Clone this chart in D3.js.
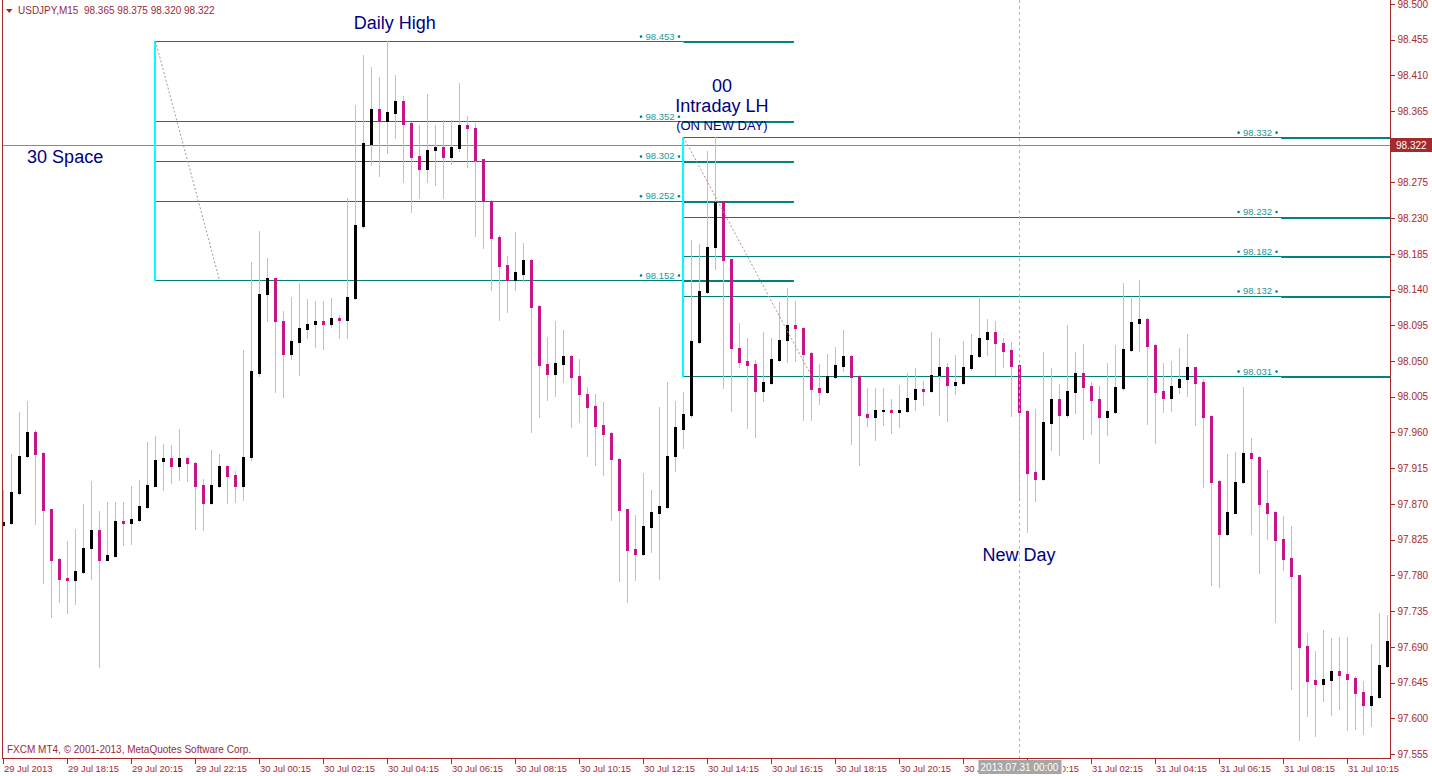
<!DOCTYPE html>
<html><head><meta charset="utf-8">
<script src="https://cdn.jsdelivr.net/npm/d3@7"></script>
<style>
html,body{margin:0;padding:0;background:#fff;overflow:hidden;}
svg{display:block;font-family:"Liberation Sans",Arial,sans-serif;}
</style></head><body>
<svg id="chart" width="1432" height="776"></svg>
<script>
// ---------------- DATA ----------------
const headerText = "USDJPY,M15  98.365 98.375 98.320 98.322";
const footerText = "FXCM MT4, \u00A9 2001-2013, MetaQuotes Software Corp.";

const opens = [97.844,97.846,97.884,97.930,97.961,97.934,97.863,97.801,97.777,97.774,
 97.784,97.814,97.837,97.800,97.805,97.849,97.846,97.850,97.866,97.893,
 97.924,97.928,97.918,97.928,97.922,97.894,97.871,97.892,97.918,97.906,
 97.892,97.929,98.035,98.134,98.154,98.101,98.059,98.074,98.090,98.097,
 98.101,98.097,98.104,98.102,98.130,98.220,98.324,98.368,98.352,98.363,
 98.377,98.350,98.308,98.292,98.316,98.320,98.307,98.318,98.347,98.344,
 98.304,98.252,98.206,98.171,98.152,98.160,98.177,98.119,98.046,98.034,
 98.046,98.056,98.031,98.009,97.993,97.969,97.959,97.927,97.863,97.813,
 97.807,97.841,97.858,97.866,97.930,97.965,97.982,98.074,98.137,98.194,
 98.251,98.178,98.067,98.050,98.046,98.012,98.022,98.051,98.076,98.095,
 98.092,98.060,98.016,98.011,98.030,98.044,98.056,98.031,97.983,97.979,
 97.987,97.988,97.986,97.987,98.002,98.015,98.012,98.032,98.042,98.020,
 98.022,98.041,98.056,98.078,98.087,98.073,98.064,98.045,97.987,97.910,
 97.901,97.972,98.002,97.982,98.011,98.035,98.018,98.002,97.979,97.986,
 98.016,98.064,98.098,98.103,98.070,98.012,98.003,98.017,98.027,98.042,
 98.023,97.981,97.899,97.832,97.859,97.897,97.934,97.929,97.871,97.860,
 97.826,97.802,97.780,97.691,97.648,97.643,97.648,97.660,97.656,97.651,
 97.633,97.617,97.627,97.666];
const highs = [97.888,97.933,97.986,98.000,97.963,97.935,97.864,97.802,97.823,97.838,
 97.870,97.899,97.861,97.872,97.873,97.872,97.892,97.900,97.948,97.956,
 97.945,97.944,97.965,97.929,97.923,97.902,97.938,97.933,97.919,97.911,
 98.064,98.175,98.214,98.180,98.155,98.113,98.131,98.148,98.128,98.126,
 98.126,98.129,98.108,98.256,98.372,98.436,98.421,98.408,98.453,98.410,
 98.384,98.351,98.347,98.387,98.347,98.354,98.353,98.400,98.359,98.350,
 98.305,98.253,98.209,98.182,98.213,98.199,98.178,98.120,98.080,98.101,
 98.089,98.057,98.052,98.017,98.009,97.998,97.960,97.928,97.864,97.856,
 97.909,97.887,97.992,98.024,98.000,98.011,98.203,98.197,98.315,98.332,
 98.252,98.179,98.098,98.079,98.051,98.087,98.079,98.124,98.142,98.126,
 98.093,98.061,98.046,98.059,98.068,98.089,98.057,98.032,98.016,98.016,
 98.016,98.002,98.020,98.035,98.041,98.025,98.087,98.079,98.048,98.058,
 98.075,98.084,98.129,98.103,98.100,98.079,98.074,98.046,97.988,97.990,
 98.061,98.041,98.021,98.095,98.062,98.071,98.024,98.018,98.048,98.070,
 98.148,98.130,98.152,98.104,98.071,98.048,98.050,98.066,98.084,98.043,
 98.027,97.982,97.900,97.933,97.935,98.017,97.953,97.930,97.913,97.861,
 97.855,97.842,97.781,97.708,97.685,97.711,97.701,97.703,97.703,97.653,
 97.647,97.693,97.733,97.730];
const lows = [97.842,97.845,97.883,97.929,97.845,97.771,97.727,97.747,97.732,97.744,
 97.783,97.776,97.665,97.799,97.804,97.818,97.819,97.849,97.865,97.892,
 97.888,97.896,97.900,97.899,97.838,97.837,97.870,97.891,97.871,97.872,
 97.875,97.925,98.031,98.100,98.011,98.005,98.052,98.032,98.079,98.068,
 98.065,98.093,98.079,98.079,98.128,98.217,98.297,98.283,98.312,98.331,
 98.275,98.238,98.255,98.275,98.272,98.256,98.298,98.315,98.295,98.207,
 98.193,98.139,98.102,98.112,98.140,98.151,97.961,97.980,98.001,98.006,
 98.024,97.967,97.973,97.930,97.919,97.907,97.850,97.773,97.747,97.774,
 97.806,97.810,97.776,97.865,97.912,97.941,97.979,98.073,98.136,98.166,
 98.016,97.987,98.042,97.966,97.954,98.000,98.021,98.050,98.049,98.050,
 97.976,97.976,97.996,98.010,98.029,98.037,97.945,97.919,97.968,97.951,
 97.969,97.959,97.967,97.986,97.988,97.995,98.011,97.982,97.974,98.008,
 98.021,98.039,98.055,98.057,98.032,98.042,97.981,97.878,97.835,97.874,
 97.900,97.938,97.932,97.980,97.985,97.952,97.958,97.922,97.957,97.984,
 98.014,98.063,98.063,97.971,97.947,97.986,97.987,98.010,98.006,97.969,
 97.891,97.768,97.765,97.831,97.858,97.896,97.832,97.783,97.826,97.721,
 97.787,97.637,97.573,97.603,97.578,97.622,97.604,97.612,97.585,97.587,
 97.580,97.590,97.625,97.664];
const closes = [97.847,97.885,97.931,97.961,97.933,97.862,97.800,97.776,97.774,97.785,
 97.815,97.837,97.800,97.806,97.849,97.846,97.851,97.867,97.894,97.925,
 97.928,97.918,97.928,97.921,97.892,97.871,97.894,97.918,97.905,97.892,
 97.929,98.037,98.135,98.154,98.100,98.059,98.075,98.092,98.097,98.101,
 98.097,98.104,98.102,98.131,98.221,98.325,98.368,98.352,98.364,98.377,
 98.349,98.307,98.292,98.316,98.320,98.307,98.319,98.347,98.343,98.303,
 98.251,98.205,98.170,98.152,98.162,98.177,98.118,98.045,98.034,98.047,
 98.056,98.030,98.008,97.992,97.968,97.958,97.926,97.862,97.812,97.807,
 97.842,97.860,97.867,97.931,97.967,97.983,98.075,98.138,98.194,98.250,
 98.177,98.066,98.049,98.045,98.012,98.023,98.052,98.077,98.095,98.092,
 98.059,98.015,98.011,98.031,98.045,98.056,98.030,97.982,97.979,97.988,
 97.988,97.986,97.988,98.004,98.015,98.012,98.032,98.042,98.020,98.024,
 98.042,98.057,98.079,98.087,98.073,98.063,98.044,97.986,97.909,97.901,
 97.973,98.002,97.982,98.012,98.035,98.017,98.001,97.979,97.987,98.017,
 98.065,98.099,98.103,98.069,98.011,98.003,98.018,98.028,98.042,98.022,
 97.979,97.898,97.832,97.860,97.898,97.934,97.928,97.870,97.859,97.825,
 97.801,97.779,97.690,97.647,97.643,97.650,97.660,97.655,97.650,97.632,
 97.617,97.628,97.667,97.697];

const timeTickIndex = [0,8,16,24,32,40,48,56,64,72,80,88,96,104,112,120,128,136,144,152,160,168];
const timeTickLabels = ["29 Jul 2013","29 Jul 18:15","29 Jul 20:15","29 Jul 22:15","30 Jul 00:15",
 "30 Jul 02:15","30 Jul 04:15","30 Jul 06:15","30 Jul 08:15","30 Jul 10:15","30 Jul 12:15",
 "30 Jul 14:15","30 Jul 16:15","30 Jul 18:15","30 Jul 20:15","30 Jul 22:15","31 Jul 00:15",
 "31 Jul 02:15","31 Jul 04:15","31 Jul 06:15","31 Jul 08:15","31 Jul 10:15"];
const priceTicks = [98.500,98.455,98.410,98.365,98.320,98.275,98.230,98.185,98.140,98.095,98.050,
 98.005,97.960,97.915,97.870,97.825,97.780,97.735,97.690,97.645,97.600,97.555];

const currentPrice = 98.322;
const dailyLevels = [98.453,98.352,98.302,98.252,98.152];
const intradayLevels = [98.332,98.232,98.182,98.132,98.031];
// bar-index anchors of the drawn objects
const dailyStartIdx = 19, dailyDiagEndIdx = 27, dailyThickEndIdx = 98.8;
const intraStartIdx = 85, intraDiagEndIdx = 101, intraThickStartIdx = 159.7;
const newDayIdx = 127;
const newDayLabel = "2013.07.31 00:00";

// ---------------- LAYOUT ----------------
const W = 1432, H = 776;
const plotL = 2, plotR = 1390, plotT = 0, plotB = 758;
const n = opens.length;
const candles = d3.range(n).map(i => ({i, o: opens[i], h: highs[i], l: lows[i], c: closes[i]}));

const x = d3.scaleLinear().domain([0, 1]).range([3.5, 11.5]);
const y = d3.scaleLinear().domain([97.555, 98.500]).range([754, 3.8]);

const AXIS = "#a8282a", TEAL = "#008080", CYAN = "#00ffff", NAVY = "#000080",
      MAG = "#c71585", WICK = "#c0c0c0", LBL = "#1a9a9a";

const svg = d3.select("#chart");
svg.append("rect").attr("width", W).attr("height", H).attr("fill", "#fff");
const defs = svg.append("defs");
defs.append("clipPath").attr("id", "clip")
  .append("rect").attr("x", plotL + 0.5).attr("y", plotT).attr("width", plotR - plotL - 0.5).attr("height", plotB - plotT);

const g = svg.append("g").attr("clip-path", "url(#clip)");
const py = v => Math.round(y(v)) + 0.5;

// current price line
g.append("line").attr("x1", plotL).attr("x2", plotR)
  .attr("y1", py(currentPrice)).attr("y2", py(currentPrice))
  .attr("stroke", "#8a8a8a").attr("stroke-width", 1);

// daily high group
dailyLevels.forEach(v => {
  g.append("line").attr("x1", x(dailyStartIdx) - 0.5).attr("x2", x(intraStartIdx))
    .attr("y1", py(v)).attr("y2", py(v)).attr("stroke", TEAL).attr("stroke-width", 1);
  g.append("line").attr("x1", x(intraStartIdx)).attr("x2", x(dailyThickEndIdx))
    .attr("y1", Math.round(y(v)) + 1).attr("y2", Math.round(y(v)) + 1).attr("stroke", TEAL).attr("stroke-width", 2);
});
// intraday group
intradayLevels.forEach(v => {
  g.append("line").attr("x1", x(intraStartIdx)).attr("x2", x(intraThickStartIdx))
    .attr("y1", py(v)).attr("y2", py(v)).attr("stroke", TEAL).attr("stroke-width", 1);
  g.append("line").attr("x1", x(intraThickStartIdx)).attr("x2", plotR)
    .attr("y1", Math.round(y(v)) + 1).attr("y2", Math.round(y(v)) + 1).attr("stroke", TEAL).attr("stroke-width", 2);
});
// cyan verticals
g.append("line").attr("x1", x(dailyStartIdx) - 0.5).attr("x2", x(dailyStartIdx) - 0.5)
  .attr("y1", y(d3.max(dailyLevels))).attr("y2", y(d3.min(dailyLevels)) + 1)
  .attr("stroke", CYAN).attr("stroke-width", 2);
g.append("line").attr("x1", x(intraStartIdx) - 0.5).attr("x2", x(intraStartIdx) - 0.5)
  .attr("y1", y(d3.max(intradayLevels))).attr("y2", y(d3.min(intradayLevels)) + 1)
  .attr("stroke", CYAN).attr("stroke-width", 2);

// candles
const cg = g.append("g").attr("shape-rendering", "crispEdges");
cg.selectAll("rect.wick").data(candles).join("rect").attr("class", "wick")
  .attr("x", d => x(d.i) - 0.5).attr("width", 1)
  .attr("y", d => Math.round(y(d.h)))
  .attr("height", d => Math.max(1, Math.round(y(d.l)) - Math.round(y(d.h)) + 1))
  .attr("fill", WICK);
cg.selectAll("rect.body").data(candles).join("rect").attr("class", "body")
  .attr("x", d => x(d.i) - 1.5).attr("width", 3)
  .attr("y", d => Math.round(y(Math.max(d.o, d.c))))
  .attr("height", d => Math.max(2, Math.round(y(Math.min(d.o, d.c))) - Math.round(y(Math.max(d.o, d.c))) + 1))
  .attr("fill", d => d.c >= d.o ? "#000" : MAG);

// dotted diagonals
g.append("line").attr("x1", x(dailyStartIdx)).attr("y1", y(d3.max(dailyLevels)))
  .attr("x2", x(dailyDiagEndIdx)).attr("y2", y(d3.min(dailyLevels)))
  .attr("stroke", "#b88f8f").attr("stroke-width", 1).attr("stroke-dasharray", "2,2");
g.append("line").attr("x1", x(intraStartIdx)).attr("y1", y(d3.max(intradayLevels)))
  .attr("x2", x(intraDiagEndIdx)).attr("y2", y(d3.min(intradayLevels)))
  .attr("stroke", "#b88f8f").attr("stroke-width", 1).attr("stroke-dasharray", "2,2");

// new day separator
g.append("line").attr("x1", x(newDayIdx)).attr("x2", x(newDayIdx))
  .attr("y1", plotT).attr("y2", plotB)
  .attr("stroke", "#b4b4b4").attr("stroke-width", 1).attr("stroke-dasharray", "3,3");

// level labels
const fmt = d3.format(".3f");
function levelLabel(v, rightEdge) {
  const yy = y(v) - 4.5;
  g.append("circle").attr("cx", rightEdge - 4.5).attr("cy", yy).attr("r", 1.3).attr("fill", TEAL);
  g.append("circle").attr("cx", rightEdge - 42.5).attr("cy", yy).attr("r", 1.3).attr("fill", TEAL);
  g.append("text").attr("x", rightEdge - 9).attr("y", y(v) - 1.5).attr("text-anchor", "end")
    .attr("font-size", 9.5).attr("fill", LBL).text(fmt(v));
}
dailyLevels.forEach(v => levelLabel(v, x(intraStartIdx)));
intradayLevels.forEach(v => levelLabel(v, x(intraThickStartIdx)));

// annotation texts
const ann = svg.append("g").attr("fill", NAVY);
ann.append("text").attr("x", x(48.9)).attr("y", y(d3.max(dailyLevels)) - 12).attr("text-anchor", "middle")
  .attr("font-size", 18).text("Daily High");
ann.append("text").attr("x", x(2.95)).attr("y", y(98.299)).attr("font-size", 18).text("30 Space");
ann.append("text").attr("x", x(89.8)).attr("y", y(d3.max(intradayLevels)) - 45).attr("text-anchor", "middle")
  .attr("font-size", 18).text("00");
ann.append("text").attr("x", x(89.8)).attr("y", y(d3.max(intradayLevels)) - 25).attr("text-anchor", "middle")
  .attr("font-size", 18).text("Intraday LH");
ann.append("text").attr("x", x(89.8)).attr("y", y(d3.max(intradayLevels)) - 7).attr("text-anchor", "middle")
  .attr("font-size", 13).text("(ON NEW DAY)");
ann.append("text").attr("x", x(newDayIdx) - 0.5).attr("y", 561).attr("text-anchor", "middle")
  .attr("font-size", 18).text("New Day");

// ---------------- AXES ----------------
const ax = svg.append("g").attr("shape-rendering", "crispEdges");
ax.append("line").attr("x1", plotL + 0.5).attr("x2", plotL + 0.5).attr("y1", 0).attr("y2", plotB).attr("stroke", AXIS);
ax.append("line").attr("x1", plotR + 0.5).attr("x2", plotR + 0.5).attr("y1", 0).attr("y2", plotB + 1).attr("stroke", AXIS);
ax.append("line").attr("x1", plotL).attr("x2", plotR + 1).attr("y1", plotB + 0.5).attr("y2", plotB + 0.5).attr("stroke", AXIS);

// right price axis
const yAxis = d3.axisRight(y).tickValues(priceTicks).tickFormat(fmt).tickSize(4).tickPadding(3);
const yg = svg.append("g").attr("transform", `translate(${plotR + 0.5},0)`).call(yAxis);
yg.select(".domain").remove();
yg.selectAll(".tick line").attr("stroke", AXIS).attr("shape-rendering", "crispEdges");
yg.selectAll(".tick text").attr("fill", AXIS).attr("font-size", 10).attr("font-family", "Liberation Sans, Arial, sans-serif");

// bottom time axis (labels hidden behind the date tag are clipped like in the terminal)
const tagX0 = x(newDayIdx) - 41, tagW = 83;
const bx = defs.append("clipPath").attr("id", "clipB");
bx.append("rect").attr("x", 0).attr("y", 0).attr("width", tagX0 + 1).attr("height", 30);
bx.append("rect").attr("x", tagX0 + tagW + 1).attr("y", 0).attr("width", W).attr("height", 30);
const xAxis = d3.axisBottom(x).tickValues(timeTickIndex)
  .tickFormat((d, k) => timeTickLabels[k]).tickSize(5).tickPadding(2);
const xg = svg.append("g").attr("transform", `translate(-1,${plotB + 0.5})`).call(xAxis);
xg.select(".domain").remove();
xg.selectAll(".tick line").attr("stroke", AXIS).attr("shape-rendering", "crispEdges");
xg.selectAll(".tick text").attr("fill", AXIS).attr("font-size", 9.4).attr("text-anchor", "start")
  .attr("x", 1).attr("dy", "0.71em").attr("font-family", "Liberation Sans, Arial, sans-serif");
xg.attr("clip-path", null);
xg.selectAll(".tick").each(function(d) {
  const tx = x(d) - 1;
  if (tx > tagX0 - 60 && tx < tagX0 + tagW + 2) {
    d3.select(this).select("text").attr("clip-path", "url(#clipT" + d + ")");
    const cp = defs.append("clipPath").attr("id", "clipT" + d).attr("clipPathUnits", "userSpaceOnUse");
    cp.append("rect").attr("x", -100).attr("y", -5).attr("width", tagX0 - tx + 100 + 1).attr("height", 30);
    cp.append("rect").attr("x", tagX0 + tagW - tx + 1).attr("y", -5).attr("width", 200).attr("height", 30);
  }
});

// current price tag
const cy = y(currentPrice);
svg.append("rect").attr("x", plotR + 1).attr("y", Math.round(cy) - 7).attr("width", W - plotR - 1).attr("height", 14)
  .attr("fill", "#a52a2a");
svg.append("text").attr("x", plotR + 6).attr("y", Math.round(cy) + 4).attr("fill", "#fff")
  .attr("font-size", 10).text(fmt(currentPrice));

// new day time tag
svg.append("rect").attr("x", tagX0).attr("y", plotB + 2).attr("width", tagW).attr("height", 14)
  .attr("fill", "#a6a6a6");
svg.append("text").attr("x", x(newDayIdx)).attr("y", plotB + 13).attr("text-anchor", "middle")
  .attr("fill", "#fff").attr("font-size", 10).text(newDayLabel);

// header & footer
svg.append("path").attr("d", "M6,9 L12.5,9 L9.25,13 Z").attr("fill", "#b22222");
svg.append("text").attr("x", 18).attr("y", 14).attr("font-size", 10).attr("fill", "#9a2a3a")
  .attr("xml:space", "preserve").style("white-space", "pre").text(headerText);
svg.append("text").attr("x", 7).attr("y", 753).attr("font-size", 10).attr("fill", "#9a2a3a").text(footerText);
</script>
</body></html>
